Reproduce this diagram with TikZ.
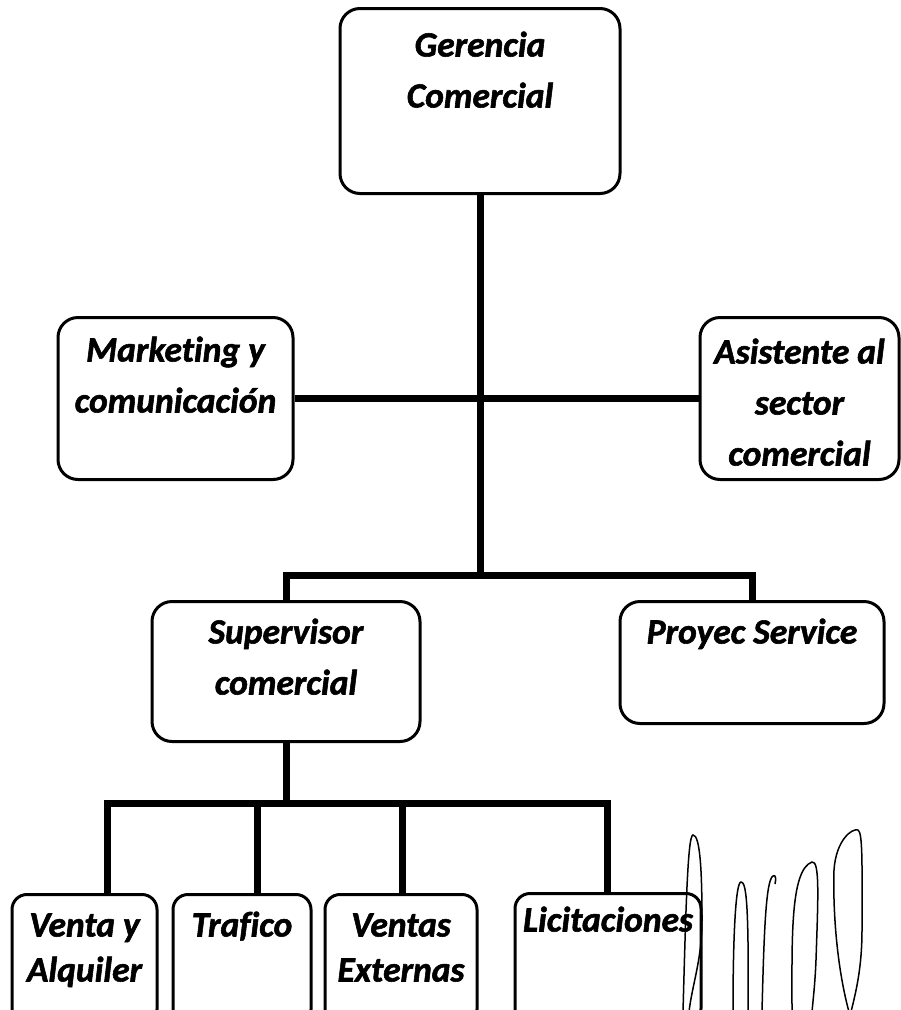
\documentclass[tikz,border=0pt]{standalone}
\usepackage{fontspec}
\setmainfont{Carlito}[Ligatures={NoCommon}, BoldItalicFeatures={FakeBold=1.6}]

% text block of a box: width, height, first baseline, lines
\newcommand{\cajatxt}[4]{\parbox[c][#2][t]{#1}{\centering\rule{0pt}{#3}#4}}

\tikzset{
  caja/.style={draw, line width=3pt, rounded corners=20pt, fill=white,
    inner sep=0pt, anchor=north,
    font=\bfseries\itshape\fontsize{35.5}{51}\selectfont},
  cajita/.style={caja, rounded corners=15pt,
    font=\bfseries\itshape\fontsize{35.5}{45}\selectfont},
  linea/.style={line width=7pt},
  trazo/.style={line width=1.5pt},
}

\begin{document}
\begin{tikzpicture}[x=1pt,y=-1pt]
  \useasboundingbox (0,0) rectangle (901,1010);

  % boxes
  \node[caja] (ger) at (480,7) {\cajatxt{280pt}{185pt}{48pt}{Gerencia\\Comercial}};
  \node[caja] (mkt) at (175.5,316) {\cajatxt{235pt}{162pt}{44pt}{Marketing y\\comunicación}};
  \node[caja] (asis) at (799.5,316) {\cajatxt{199pt}{162pt}{46pt}{Asistente al\\sector\\comercial}};
  \node[caja] (sup) at (286,600) {\cajatxt{268pt}{140pt}{42pt}{Supervisor\\comercial}};
  \node[caja] (proy) at (752,600) {\cajatxt{264pt}{122pt}{42pt}{Proyec Service}};

  \node[cajita] (venta) at (84.5,893) {\cajatxt{145pt}{130pt}{42pt}{Venta y\\Alquiler}};
  \node[cajita] (traf) at (242,893) {\cajatxt{138pt}{130pt}{42pt}{Trafico}};
  \node[cajita] (vext) at (401,893) {\cajatxt{152pt}{130pt}{42pt}{Ventas\\Externas}};
  \node[cajita] (lic) at (608,892) {\cajatxt{186pt}{130pt}{38pt}{Licitaciones}};

  % connectors
  \coordinate (j1) at (480,575);
  \draw[linea] (ger) -- (j1);
  \draw[linea] (mkt.east) -- (asis.west);
  \draw[linea] (sup.north) |- (j1) -| (proy.north);

  \coordinate (k0) at (286,803);
  \coordinate (b1) at (107,803);
  \coordinate (b2) at (257,803);
  \coordinate (b3) at (402,803);
  \coordinate (b4) at (607,803);
  \draw[linea] (sup) -- (k0);
  \draw[linea] (b1 |- venta.north) -- (b1) -- (b4) -- (b4 |- lic.north);
  \draw[linea] (b2) -- (b2 |- traf.north);
  \draw[linea] (b3) -- (b3 |- vext.north);

  % stray pen loops
  \draw[trazo] (683,1012) .. controls (686,900) and (688,835) .. (693,835)
    .. controls (700,835) and (702,870) .. (702,920)
    .. controls (702,960) and (692,985) .. (689,1012);
  \draw[trazo] (733,1012) .. controls (733,930) and (736,882) .. (741,882)
    .. controls (746,882) and (749,900) .. (748,1012);
  \draw[trazo] (762,1012) .. controls (764,930) and (766,880) .. (773,876)
    .. controls (776,874) and (776,880) .. (775,884);
  \draw[trazo] (792,1012) .. controls (792,940) and (790,870) .. (812,862)
    .. controls (820,860) and (818,900) .. (816,960)
    .. controls (815,985) and (813,1000) .. (812,1012);
  \draw[trazo] (849,1012) .. controls (835,960) and (833,900) .. (834,870)
    .. controls (836,840) and (852,828) .. (858,830)
    .. controls (863,832) and (862,870) .. (862,930)
    .. controls (862,970) and (855,995) .. (851,1012);
\end{tikzpicture}
\end{document}
